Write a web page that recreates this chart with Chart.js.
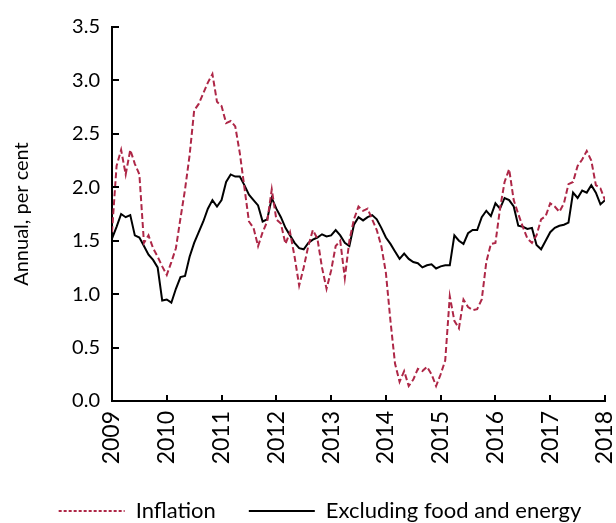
<!DOCTYPE html>
<html>
<head>
<meta charset="utf-8">
<script src="https://cdn.jsdelivr.net/npm/chart.js@4/dist/chart.umd.min.js"></script>
<style>
  html, body { margin: 0; padding: 0; background: #fff; overflow: hidden; }
  #wrap { width: 616px; height: 532px; }
</style>
</head>
<body>
<div id="wrap"><canvas id="myChart"></canvas></div>
<script>
'use strict';
// monthly, Jan 2009 .. Jan 2018
const yearLabels = ['2009', '2010', '2011', '2012', '2013', '2014', '2015', '2016', '2017', '2018'];

const inflation = [
  1.58, 2.2, 2.35, 2.12, 2.35, 2.22, 2.12, 1.48, 1.55, 1.43, 1.35, 1.26,
  1.18, 1.3, 1.43, 1.71, 1.98, 2.3, 2.72, 2.78, 2.88, 2.98, 3.06, 2.8,
  2.76, 2.6, 2.62, 2.57, 2.32, 2.0, 1.68, 1.62, 1.45, 1.58, 1.68, 1.98,
  1.7, 1.66, 1.47, 1.58, 1.35, 1.08, 1.25, 1.45, 1.6, 1.52, 1.25, 1.05,
  1.22, 1.45, 1.5, 1.15, 1.5, 1.7, 1.82, 1.78, 1.8, 1.7, 1.6, 1.45,
  1.2, 0.75, 0.35, 0.18, 0.28, 0.14, 0.2, 0.3, 0.28, 0.32, 0.25, 0.14,
  0.25, 0.38, 0.98, 0.75, 0.68, 0.95, 0.88, 0.85, 0.86, 0.95, 1.3, 1.47,
  1.48, 1.8, 2.05, 2.17, 1.88, 1.75, 1.63, 1.52, 1.48, 1.55, 1.7, 1.73,
  1.85, 1.82, 1.77, 1.85, 2.03, 2.05, 2.2, 2.26, 2.34, 2.25, 2.02, 1.99,
  1.88
];

const exFoodEnergy = [
  1.52, 1.63, 1.75, 1.72, 1.74, 1.55, 1.53, 1.45, 1.37, 1.32, 1.25, 0.94,
  0.95, 0.92, 1.05, 1.16, 1.17, 1.35, 1.48, 1.58, 1.68, 1.8, 1.88, 1.82,
  1.88, 2.05, 2.12, 2.1, 2.1, 2.02, 1.93, 1.88, 1.83, 1.68, 1.7, 1.9,
  1.8, 1.72, 1.62, 1.55, 1.48, 1.43, 1.42, 1.48, 1.51, 1.53, 1.56, 1.54,
  1.55, 1.6, 1.55, 1.48, 1.45, 1.65, 1.72, 1.69, 1.72, 1.74, 1.7, 1.62,
  1.53, 1.47, 1.4, 1.33, 1.38, 1.33, 1.3, 1.29, 1.25, 1.27, 1.28, 1.24,
  1.26, 1.27, 1.27, 1.55, 1.5, 1.47, 1.57, 1.6, 1.6, 1.72, 1.78, 1.73,
  1.85, 1.8, 1.9, 1.88, 1.82, 1.64, 1.63, 1.61, 1.62, 1.46, 1.42, 1.5,
  1.58, 1.62, 1.64, 1.65, 1.67, 1.95, 1.9, 1.97, 1.95, 2.02, 1.95, 1.84,
  1.88
];

const RED = '#ae2747';
const FONT = 'Lato';

function toPoints(arr) {
  return arr.map((v, i) => ({ x: i, y: v }));
}

// tick marks pointing into the plot
const innerTicks = {
  id: 'innerTicks',
  afterDraw(chart) {
    const { ctx, chartArea } = chart;
    const x = chart.scales.x, y = chart.scales.y;
    ctx.save();
    ctx.strokeStyle = '#000';
    ctx.lineWidth = 2;
    ctx.beginPath();
    y.ticks.forEach(t => {
      const py = Math.round(y.getPixelForValue(t.value));
      ctx.moveTo(chartArea.left, py);
      ctx.lineTo(chartArea.left + 7, py);
    });
    x.ticks.forEach(t => {
      const px = Math.round(x.getPixelForValue(t.value));
      ctx.moveTo(px, chartArea.bottom);
      ctx.lineTo(px, chartArea.bottom - 6);
    });
    ctx.stroke();
    ctx.restore();
  }
};

// legend sits a little right of centre in the original
const legendShift = {
  id: 'legendShift',
  afterLayout(chart) {
    chart.legend.left += 12;
    chart.legend.right += 12;
  }
};

Chart.defaults.font.family = FONT;
Chart.defaults.color = '#000';

var ctx = document.getElementById('myChart').getContext('2d');
var myLineChart = new Chart(ctx, {
  type: 'line',
  data: {
    datasets: [
      {
        label: 'Inflation',
        data: toPoints(inflation),
        borderColor: RED,
        borderWidth: 2,
        borderDash: [6, 3],
        pointRadius: 0,
        pointStyle: 'line',
        tension: 0,
        fill: false
      },
      {
        label: 'Excluding food and energy',
        data: toPoints(exFoodEnergy),
        borderColor: '#000',
        borderWidth: 2,
        pointRadius: 0,
        pointStyle: 'line',
        tension: 0,
        fill: false
      }
    ]
  },
  options: {
    responsive: true,
    maintainAspectRatio: false,
    animation: false,
    layout: { padding: { top: 27, right: 0, left: 0, bottom: 0 } },
    plugins: {
      tooltip: { enabled: false },
      legend: {
        position: 'bottom',
        labels: {
          usePointStyle: true,
          pointStyleWidth: 66,
          padding: 33,
          font: { size: 22 },
          color: '#000',
          generateLabels(chart) {
            const items = Chart.defaults.plugins.legend.labels.generateLabels(chart);
            items[0].lineDash = [3, 2];
            return items;
          }
        }
      }
    },
    scales: {
      x: {
        type: 'linear',
        min: 0,
        max: 108,
        grid: { drawOnChartArea: false, drawTicks: false },
        border: { display: true, color: '#000', width: 2 },
        ticks: {
          stepSize: 12,
          minRotation: 90,
          maxRotation: 90,
          padding: 10,
          font: { size: 23 },
          callback: v => yearLabels[v / 12]
        },
        afterFit(scale) {
          scale.height = 66;
          scale.paddingLeft = 0;
          scale.paddingRight = 11;
        }
      },
      y: {
        min: 0,
        max: 3.5,
        grid: { drawOnChartArea: false, drawTicks: false },
        border: { display: true, color: '#000', width: 2 },
        ticks: {
          stepSize: 0.5,
          padding: 12,
          font: { size: 20 },
          callback: v => v.toFixed(1)
        },
        title: {
          display: true,
          text: 'Annual, per cent',
          font: { size: 20 },
          padding: { top: 10, bottom: 0 }
        },
        afterFit(scale) { scale.width = 112; }
      }
    }
  },
  plugins: [innerTicks, legendShift]
});
</script>
</body>
</html>
